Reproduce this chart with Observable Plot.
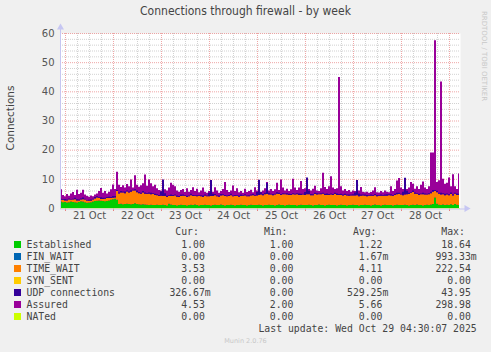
<!DOCTYPE html>
<html><head><meta charset="utf-8">
<script src="https://cdn.jsdelivr.net/npm/d3@7"></script>
<script src="https://cdn.jsdelivr.net/npm/@observablehq/plot@0.6"></script>
<style>
html,body{margin:0;padding:0;background:#f0f0f0;}
body{width:491px;height:352px;overflow:hidden;position:relative;font-family:"DejaVu Sans",sans-serif;}
#chart{position:absolute;left:0;top:0;}
.t{position:absolute;white-space:pre;line-height:12px;}
.mono{font-family:"DejaVu Sans Mono",monospace;font-size:9.8px;color:#444;}
.sw{position:absolute;width:7px;height:7px;}
</style></head><body>
<div id="chart"></div>
<div id="overlay"></div>
<script>
// ---- data (hourly, starting 2025-10-20 22:00) ----
const startTime = Date.UTC(2025, 9, 20, 22, 0);
const established = [
  2.2,2.0,2.1,1.9,2.0,2.2,2.1,2.0,1.9,2.1,2.3,2.2,2.0,1.8,
  1.9,2.0,2.2,2.4,2.5,2.6,2.5,2.4,2.3,2.4,2.6,2.8,3.0,3.2,2.8,
  1.4,1.5,1.3,1.4,1.5,1.4,1.3,1.4,1.6,1.4,1.3,1.2,1.3,1.2,1.1,1.0,1.1,1.0,1.0,1.1,1.0,
  1.0,1.1,1.0,0.9,1.5,1.2,1.0,1.0,0.9,1.0,1.1,1.0,1.0,0.9,1.0,1.1,1.0,1.2,1.0,0.9,1.0,1.0,1.1,1.0,
  1.0,0.9,1.0,1.1,1.0,1.0,1.2,1.0,0.9,1.0,1.0,1.1,1.0,0.9,1.0,1.0,1.1,1.0,1.0,0.9,1.0,1.1,1.0,1.0,
  1.0,1.1,1.0,0.9,1.0,1.0,1.1,1.0,1.0,0.9,1.0,1.2,1.0,1.0,0.9,1.0,1.1,1.0,1.0,1.0,0.9,1.0,1.1,1.0,
  1.0,1.0,1.1,1.0,0.9,1.0,1.0,1.2,1.0,1.0,0.9,1.0,1.1,1.0,1.0,1.0,0.9,1.0,1.1,1.0,1.0,0.9,1.0,1.0,
  1.1,1.0,1.0,0.9,1.0,1.0,1.1,1.0,1.0,0.9,1.0,1.2,1.0,1.0,0.9,1.0,1.1,1.0,1.0,1.0,0.9,1.0,1.1,1.0,
  1.0,1.0,1.1,1.0,0.9,1.0,1.1,1.0,1.2,1.0,1.0,0.9,1.0,1.1,1.0,1.2,1.4,3.6,1.5,1.1,1.0,1.2,1.0,1.1,
  1.0,1.3,1.0,1.4,1.1,1.0
];
const timeWait = [
  0.6,0.8,0.5,0.7,0.9,0.6,0.8,1.0,0.7,0.5,0.6,0.8,0.9,0.7,0.6,0.5,0.7,0.9,1.1,0.8,0.6,0.7,0.9,1.0,0.8,0.6,0.5,0.4,
  3.0,
  3.6,3.8,4.0,3.7,4.2,3.9,4.3,4.6,4.4,4.0,3.8,3.7,4.0,3.7,3.7,3.9,3.6,3.8,3.5,3.3,3.1,
  3.2,3.0,3.1,2.9,2.6,2.9,3.1,3.3,3.0,2.8,3.0,3.2,3.1,2.9,3.0,3.3,3.1,2.9,3.0,3.2,3.0,2.8,3.1,3.0,
  3.0,3.2,3.1,3.3,3.0,2.9,3.1,3.4,3.2,3.0,3.1,3.3,3.0,3.2,3.1,2.9,3.0,3.2,3.3,3.1,3.0,3.2,3.4,3.2,
  3.3,3.4,3.6,3.5,3.7,3.8,3.5,3.6,3.4,3.7,3.9,3.6,3.5,3.7,3.8,3.6,3.4,3.5,3.7,3.6,3.8,3.5,3.4,3.6,
  3.5,3.7,3.6,3.4,3.5,3.8,3.6,3.5,3.7,3.9,3.6,3.5,3.4,3.6,3.5,3.8,3.6,3.5,3.4,3.3,3.5,3.4,3.2,3.3,
  3.2,3.3,3.4,3.1,3.2,3.3,3.1,3.0,3.2,3.3,3.1,3.2,3.0,3.1,3.3,3.2,3.1,3.2,3.4,3.3,3.2,3.5,3.6,3.8,
  3.6,3.4,3.5,3.7,3.9,4.2,4.4,3.9,3.6,3.5,3.7,3.8,3.6,3.5,3.7,3.9,4.2,2.2,3.9,3.8,3.6,3.5,3.4,3.5,
  3.4,3.5,3.3,3.5,3.4,3.5
];
const udp = [
  0.4,0.3,0.5,0.3,0.4,0.2,0.3,0.5,0.4,0.3,0.4,0.6,0.3,0.2,0.3,0.4,0.3,0.5,0.4,0.3,0.6,0.4,0.3,0.4,
  0.5,0.4,0.6,0.5,0.4,0.3,0.5,0.4,0.6,0.3,0.4,0.5,0.3,0.4,0.6,0.4,0.3,0.5,0.4,0.3,0.4,0.5,0.3,0.4,
  0.3,0.4,1.5,5.7,1.0,0.4,0.3,0.5,0.4,0.3,0.4,0.3,0.5,0.4,0.3,0.4,0.3,0.5,0.4,0.3,0.4,0.3,0.4,0.5,
  0.4,0.3,1.2,5.5,0.8,0.4,0.3,0.4,0.5,0.3,0.4,0.3,0.4,0.5,0.3,0.4,0.3,0.4,0.5,0.3,0.4,0.3,0.4,0.3,
  0.4,0.3,1.2,5.2,0.8,0.4,0.5,3.8,0.6,0.3,0.4,0.3,0.5,0.4,0.3,0.4,0.3,0.5,0.4,0.3,0.4,0.3,0.4,0.5,
  0.4,0.3,1.0,5.8,1.2,0.4,0.3,0.4,0.5,0.3,0.4,0.3,0.4,0.5,0.3,0.4,0.3,0.4,0.5,0.3,0.4,0.3,0.4,0.3,
  0.4,0.3,0.4,1.0,5.2,1.0,0.4,0.3,0.4,0.5,0.3,0.4,0.3,0.4,0.5,0.3,0.4,0.3,0.4,0.5,0.3,0.4,0.3,0.4,
  0.5,0.4,0.3,1.2,5.8,1.2,0.4,0.3,0.5,0.4,0.3,0.4,0.3,0.5,0.4,0.3,0.4,0.5,0.6,0.4,0.5,0.3,0.6,0.4,
  0.5,0.4,0.3,0.5,0.4,0.3,0.5,0.4
];
const assured = [
  6.4,4.5,4.0,4.8,4.2,5.0,5.5,4.5,6.3,4.8,5.2,6.3,4.6,4.2,3.9,4.3,4.0,4.6,5.0,5.8,6.9,5.2,5.8,5.0,
  5.6,6.4,8.1,6.5,12.4,8.0,7.2,7.8,7.0,8.2,7.5,9.8,7.0,11.2,8.0,7.3,7.8,8.5,11.5,7.6,9.8,8.5,7.5,8.0,
  6.8,6.2,6.0,6.5,6.4,6.0,7.0,8.7,8.0,7.5,6.0,5.6,6.2,6.5,5.5,6.8,5.6,6.2,7.1,5.8,6.6,5.4,6.0,7.0,
  5.6,5.2,5.8,6.0,5.6,7.1,6.0,5.2,5.8,6.5,8.9,6.2,5.5,6.0,7.7,5.8,6.8,5.4,5.8,5.2,6.6,5.5,5.8,6.3,
  5.4,7.1,6.0,6.2,5.6,6.0,6.8,8.9,6.0,6.5,5.8,6.4,8.7,6.2,9.8,7.0,6.0,6.6,5.8,6.4,10.0,7.0,6.2,7.0,
  9.3,6.5,6.8,8.5,6.5,6.0,6.6,7.6,6.0,5.8,6.8,12.1,7.2,6.5,7.5,10.9,7.0,6.5,6.8,44.9,7.5,6.0,6.5,5.8,
  6.2,5.6,6.0,5.8,6.5,6.0,7.2,5.6,5.4,5.6,5.2,5.5,6.0,7.1,5.4,5.3,5.8,5.4,6.0,5.6,5.4,7.5,5.8,6.5,
  9.4,10.3,7.0,6.5,7.0,6.5,7.0,8.9,8.3,6.6,7.5,6.5,8.0,9.1,7.0,6.5,7.5,19.0,19.0,57.5,8.9,9.5,43.4,10.0,
  8.3,8.7,10.5,7.5,11.6,7.5,6.5,11.8
];
const yTicks = [0, 10, 20, 30, 40, 50, 60];
const dayLabels = ["21 Oct","22 Oct","23 Oct","24 Oct","25 Oct","26 Oct","27 Oct","28 Oct"];

const seriesNames = ["Established","FIN_WAIT","TIME_WAIT","SYN_SENT","UDP connections","Assured","NATed"];
const seriesColors = ["#00CC00","#0066B3","#FF8000","#FFCC00","#330099","#990099","#CCFF00"];
const curVals = ["1.00 ","0.00 ","3.53 ","0.00 ","326.67m","4.53 ","0.00 "];
const minVals = ["1.00 ","0.00 ","0.00 ","0.00 ","0.00 ","2.00 ","0.00 "];
const avgVals = ["1.22 ","1.67m","4.11 ","0.00 ","529.25m","5.66 ","0.00 "];
const maxVals = ["18.64 ","993.33m","222.54 ","0.00 ","43.95 ","298.98 ","0.00 "];

// ---- build table ----
const HOUR = 3600e3;
const rows = established.map((e, i) => {
  const tw = timeWait[i], u = udp[i];
  return {t: new Date(startTime + i*HOUR), e, s1: e + tw, s2: e + tw + u, assured: assured[i]};
});
const x0 = new Date(startTime - HOUR/2), x1 = new Date(startTime + (rows.length - 0.5)*HOUR);
const dayStarts = d3.utcDay.range(x0, x1);
const noons = dayStarts.map(d => d3.utcHour.offset(d, 12));
const sixHours = d3.utcHour.every(6).range(x0, x1).filter(d => d.getUTCHours() !== 0);
const yMinor = d3.range(2, 60, 2).filter(v => v % 10 !== 0);

const gridMinor = {stroke:"#8f8f8f", strokeOpacity:0.4, strokeDasharray:"1,1"};
const gridMajor = {stroke:"#e05050", strokeOpacity:0.5, strokeDasharray:"1,1"};
const axisCol = "#c6c6f2";

const chart = Plot.plot({
  width: 491, height: 225,
  marginLeft: 60, marginRight: 31, marginTop: 33, marginBottom: 17,
  style: {background: "transparent", fontFamily: "DejaVu Sans, sans-serif"},
  x: {type: "utc", domain: [x0, x1], axis: null},
  y: {domain: [0, 60], axis: null},
  marks: [
    Plot.frame({fill: "white", stroke: null}),
    Plot.ruleY(yMinor, {...gridMinor}),
    Plot.ruleX(sixHours, {...gridMinor}),
    Plot.ruleY(yTicks.filter(v => v > 0), {...gridMajor}),
    Plot.ruleX(dayStarts, {...gridMajor}),
    Plot.areaY(rows, {x: "t", y1: 0, y2: "assured", fill: "#990099", curve: "step"}),
    Plot.areaY(rows, {x: "t", y1: 0, y2: "e", fill: "#00CC00", curve: "step"}),
    Plot.areaY(rows, {x: "t", y1: "e", y2: "s1", fill: "#FF8000", curve: "step"}),
    Plot.areaY(rows, {x: "t", y1: "s1", y2: "s2", fill: "#330099", curve: "step"}),
    Plot.ruleX(dayStarts, {y1: 0, y2: 0, insetBottom: -3, stroke: "#e05050", strokeOpacity: 0.7}),
    Plot.ruleY([0], {stroke: "#CCFF00", strokeOpacity: 0.6}),
    Plot.ruleX([x0], {stroke: axisCol, insetTop: -5}),
    Plot.ruleY([0], {stroke: axisCol, insetRight: -5, dy: 0.5}),
    Plot.dot([0], {frameAnchor: "top-left", symbol: "triangle", r: 2.6, fill: axisCol, stroke: null, dy: -6}),
    Plot.dot([0], {frameAnchor: "bottom-right", symbol: "triangle", rotate: 90, r: 2.6, fill: axisCol, stroke: null, dx: 6}),
    Plot.axisY(yTicks, {tickSize: 0, tickPadding: 6, label: null, fill: "#555", fontSize: 10}),
    Plot.axisX(noons, {tickSize: 0, tickPadding: 3, label: null, fill: "#555", fontSize: 10,
      tickFormat: d => dayLabels[dayStarts.findIndex(s => +d3.utcHour.offset(s, 12) === +d)]})
  ]
});
document.getElementById("chart").appendChild(chart);

// ---- texts / legend ----
const ov = document.getElementById("overlay");
function add(text, css, cls) {
  const el = document.createElement("div");
  el.className = "t " + (cls || "");
  el.textContent = text;
  Object.assign(el.style, css);
  ov.appendChild(el);
  return el;
}
add("Connections through firewall - by week", {left: "0px", width: "491px", textAlign: "center", top: "5px", fontSize: "12px", color: "#444", fontStretch: "condensed"});
add("Connections", {left: "-25px", top: "112px", width: "70px", textAlign: "center", fontSize: "10.5px", color: "#444", transform: "rotate(-90deg)"});
add("RRDTOOL / TOBI OETIKER", {left: "438px", top: "50px", width: "92px", textAlign: "center", fontSize: "7px", color: "#c8c8c8", transform: "rotate(90deg)"});

const rowY0 = 238.5, rowStep = 12.05;
function rightAt(text, right, top, extra) {
  return add(text, Object.assign({right: (491 - right) + "px", top: top + "px", textAlign: "right"}, extra || {}), "mono");
}
const cols = [210.7, 299.3, 388.3, 476.7];
["Cur:  ","Min:  ","Avg:  ","Max:  "].forEach((h, i) => rightAt(h, cols[i], rowY0 - rowStep));
seriesNames.forEach((name, i) => {
  const top = rowY0 + i*rowStep;
  const sw = document.createElement("div");
  sw.className = "sw";
  Object.assign(sw.style, {left: "14px", top: (top + 2.5) + "px", background: seriesColors[i]});
  ov.appendChild(sw);
  add(name, {left: "26.5px", top: top + "px"}, "mono");
  [curVals, minVals, avgVals, maxVals].forEach((arr, j) => rightAt(arr[i], cols[j], top));
});
rightAt("Last update: Wed Oct 29 04:30:07 2025", 476.7, rowY0 + 7*rowStep);
add("Munin 2.0.76", {left: "0px", width: "491px", textAlign: "center", top: "335px", fontSize: "6.5px", color: "#c8c8c8"});
</script>
</body></html>
